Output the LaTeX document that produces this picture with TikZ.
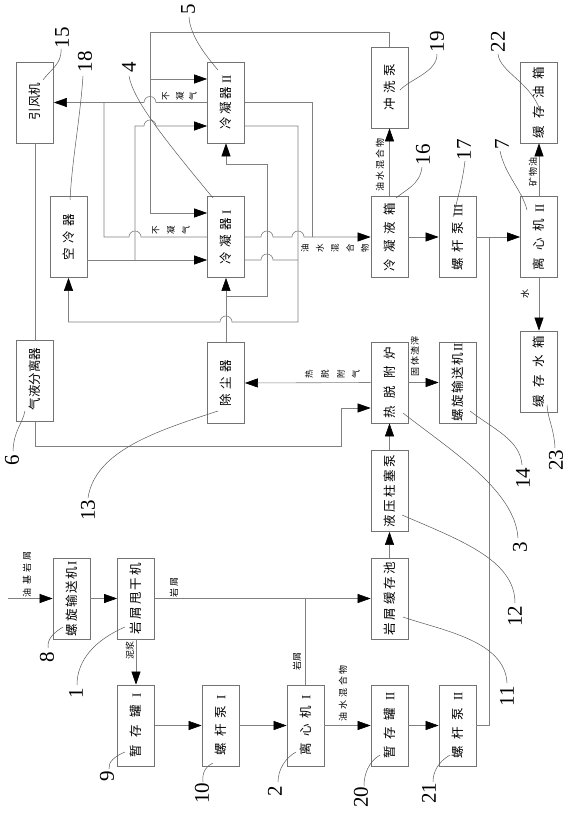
\documentclass[tikz,border=0pt]{standalone}
\usepackage{fontspec}
\setmainfont{Liberation Serif}
\newfontfamily\cjk{Noto Sans CJK SC}
\usetikzlibrary{arrows.meta,calc}
\newcommand\bt[2]{\rotatebox{90}{\makebox[#1pt][s]{#2}}}
\begin{document}
\begin{tikzpicture}[x=1pt,y=-1pt,
 ln/.style={draw=black!50, line width=0.6pt},
 arr/.style={ln, -{Triangle[length=13pt,width=9pt,color=black]}},
 box/.style={draw=black!55, line width=0.7pt, minimum width=37pt, minimum height=81pt, inner sep=0pt, font=\fontsize{12.5}{13}\selectfont},
 num/.style={rotate=90, font=\fontsize{21}{21}\selectfont, inner sep=0pt},
 lab/.style={rotate=90, font=\cjk\fontsize{9}{9}\selectfont, inner sep=0pt},
 ch/.style={rotate=90, font=\cjk\fontsize{8.5}{8.5}\selectfont, inner sep=0pt},
 lead/.style={draw=black!65, line width=0.5pt}]
\useasboundingbox (0,0) rectangle (570,813);

% boxes
\node[box] (fan) at (35,102.5) {\bt{36}{\cjk 引\hfil 风\hfil 机}};
\node[box] (aircool) at (68.5,237) {\bt{46}{\cjk 空\hfil 冷\hfil 器}};
\node[box] (condII) at (226,102.5) {\bt{54}{\cjk 冷\hfil 凝\hfil 器\hfil\rmfamily II}};
\node[box] (condI) at (226,237) {\bt{54}{\cjk 冷\hfil 凝\hfil 器\hfil\rmfamily I}};
\node[box] (gls) at (35,381) {\bt{58}{\cjk 气\hfil 液\hfil 分\hfil 离\hfil 器}};
\node[box] (dust) at (226,383) {\bt{47}{\cjk 除\hfil 尘\hfil 器}};
\node[box] (flush) at (389.5,87.5) {\bt{47}{\cjk 冲\hfil 洗\hfil 泵}};
\node[box] (oiltank) at (539,102.5) {\bt{72}{\cjk 缓\hfil 存\hfil 油\hfil 箱}};
\node[box] (cliq) at (389.5,237) {\bt{68}{\cjk 冷\hfil 凝\hfil 液\hfil 箱}};
\node[box] (pump3) at (457.5,237) {\bt{66}{\cjk 螺\hfil 杆\hfil 泵\hfil\rmfamily III}};
\node[box] (cent2) at (539,237) {\bt{66}{\cjk 离\hfil 心\hfil 机\hfil\rmfamily II}};
\node[box] (tdu) at (389.5,382.5) {\bt{72}{\cjk 热\hfil 脱\hfil 附\hfil 炉}};
\node[box] (conv2) at (457.5,382.5) {\bt{78}{\cjk 螺\hfil 旋\hfil 输\hfil 送\hfil 机\hfil\rmfamily II}};
\node[box] (watertank) at (539,371.5) {\bt{72}{\cjk 缓\hfil 存\hfil 水\hfil 箱}};
\node[box] (hpump) at (389.5,491) {\bt{73}{\cjk 液\hfil 压\hfil 柱\hfil 塞\hfil 泵}};
\node[box] (cpool) at (389.5,598.5) {\bt{74}{\cjk 岩\hfil 屑\hfil 缓\hfil 存\hfil 池}};
\node[box] (conv1) at (71.5,598.5) {\bt{75}{\cjk 螺\hfil 旋\hfil 输\hfil 送\hfil 机\hfil\rmfamily I}};
\node[box] (dryer) at (136,598.5) {\bt{71}{\cjk 岩\hfil 屑\hfil 甩\hfil 干\hfil 机}};
\node[box] (tank1) at (136,725.5) {\bt{64}{\cjk 暂\hfil 存\hfil 罐\hfil\rmfamily I}};
\node[box] (pump1) at (220.5,725.5) {\bt{60}{\cjk 螺\hfil 杆\hfil 泵\hfil\rmfamily I}};
\node[box] (cent1) at (305.5,725.5) {\bt{60}{\cjk 离\hfil 心\hfil 机\hfil\rmfamily I}};
\node[box] (tank2) at (389.5,725.5) {\bt{66}{\cjk 暂\hfil 存\hfil 罐\hfil\rmfamily II}};
\node[box] (pump2) at (457.5,725.5) {\bt{66}{\cjk 螺\hfil 杆\hfil 泵\hfil\rmfamily II}};

% bottom chain
\coordinate (feed) at (8,598.5);
\draw[arr] (feed) -- (conv1.west);
\draw[arr] (conv1.east) -- (dryer.west);
\draw[arr] (dryer.east) -- (cpool.west);
\draw[ln] (cent1.north) -- (cent1.north |- cpool.west);
\draw[arr] (dryer.south) -- (tank1.north);
\draw[arr] (tank1.east) -- (pump1.west);
\draw[arr] (pump1.east) -- (cent1.west);
\draw[arr] (cent1.east) -- (tank2.west);
\draw[arr] (tank2.east) -- (pump2.west);
\draw[ln] (pump2.east) -- (489,725.5) -- (489,237);
\draw[arr] (pump3.east) -- (cent2.west);
\draw[arr] (cpool.north) -- (hpump.south);
\draw[arr] (hpump.north) -- (tdu.south);
\draw[arr] (tdu.east) -- (conv2.west);
\draw[arr] (tdu.west) -- (dust.east);
\draw[arr] (gls.south) -- (35,446) -- (341,446) -- (341,408) -- (tdu.west |- 0,408);
\draw[ln] (fan.south) -- (gls.north);

% right column
\draw[arr] (cliq.north) -- (flush.south);
\draw[arr] (cliq.east) -- (pump3.west);
\draw[arr] (cent2.north) -- (oiltank.south);
\draw[arr] (cent2.south) -- (watertank.north);

% flushing pump to condensers
\draw[arr] (flush.north) -- (389.5,32) -- (150,32) -- (150,213) -- (condI.west |- 0,213);
\draw[arr] (150,79) -- (condII.west |- 0,79);

% non-condensable gas
\draw[arr] (condII.west) -- (156,102.5) arc[start angle=0,end angle=180,radius=6pt] -- (fan.east);
\draw[ln] (condI.west) -- (141,237) arc[start angle=0,end angle=180,radius=6pt] -- (104,237) -- (104,102.5);

% air cooler to condensers
\draw[arr] ($(aircool.east)+(0,23)$) -- (condI.west |- 0,260);
\draw[arr] (135,260) -- (135,126) -- (144,126) arc[start angle=180,end angle=0,radius=6pt] -- (condII.west |- 0,126);

% condensate to tank
\draw[ln] (condII.east) -- (312,102.5) -- (312,237);
\draw[arr] (condI.east) -- (261,237) arc[start angle=180,end angle=0,radius=6pt] -- (292,237) arc[start angle=180,end angle=0,radius=6pt] -- (cliq.west);

% cooling return to air cooler
\draw[arr] (condII.east |- 0,126) -- (298,126) -- (298,322) -- (232,322) arc[start angle=0,end angle=180,radius=6pt] -- (aircool.south |- 0,322) -- (aircool.south);
\draw[ln] (condI.east |- 0,260) -- (261,260) arc[start angle=180,end angle=0,radius=6pt] -- (298,260);

% dust remover to condensers
\draw[arr] (dust.north) -- (condI.south);
\draw[arr] (dust.north |- 0,296) -- (267,296) -- (267,164) -- (condII.south |- 0,164) -- (condII.south);

% flow labels (rotated)
\node[lab] (l1) at (27,574) {\makebox[46pt][s]{油\hfil 基\hfil 岩\hfil 屑}};
\node[lab] (l2) at (174,587) {\makebox[20pt][s]{岩\hfil 屑}};
\node[lab] (l3) at (130,650) {\makebox[18pt][s]{泥\hfil 浆}};
\node[lab] (l4) at (297,661) {\makebox[18pt][s]{岩\hfil 屑}};
\node[lab] (l5) at (343,693) {\makebox[56pt][s]{油\hfil 水\hfil 混\hfil 合\hfil 物}};
\node[lab] (l6) at (415,356) {\makebox[40pt][s]{固\hfil 体\hfil 渣\hfil 滓}};
\node[lab] (l7) at (380,165) {\makebox[53pt][s]{油\hfil 水\hfil 混\hfil 合\hfil 物}};
\node[lab] (l8) at (533,172) {\makebox[29pt][s]{矿\hfil 物\hfil 油}};
\node[lab] (l9) at (525,294) {水};

% rows of single rotated characters
\node[ch] at (166,96) {不}; \node[ch] at (180,96) {凝}; \node[ch] at (193,96) {气};
\node[ch] at (156,230) {不}; \node[ch] at (171,230) {凝}; \node[ch] at (186,230) {气};
\node[ch] at (305,248) {油}; \node[ch] at (320,248) {水}; \node[ch] at (335,248) {混}; \node[ch] at (350,248) {合}; \node[ch] at (365,248) {物};
\node[ch] at (309,374) {热}; \node[ch] at (325,374) {脱}; \node[ch] at (341,374) {附}; \node[ch] at (356,374) {气};

% reference numbers
\node[num] (n15) at (62,38) {15};
\node[num] (n18) at (85,62) {18};
\node[num] (n4) at (129,67) {4};
\node[num] (n5) at (188,9) {5};
\node[num] (n19) at (437,42) {19};
\node[num] (n22) at (498,42) {22};
\node[num] (n16) at (423,155) {16};
\node[num] (n17) at (464,150) {17};
\node[num] (n7) at (502,144) {7};
\node[num] (n6) at (12,460) {6};
\node[num] (n13) at (88,510) {13};
\node[num] (n14) at (523,478) {14};
\node[num] (n23) at (556,460) {23};
\node[num] (n3) at (520,547) {3};
\node[num] (n12) at (515,616) {12};
\node[num] (n11) at (507,696) {11};
\node[num] (n8) at (47,657) {8};
\node[num] (n1) at (76,693) {1};
\node[num] (n9) at (107,776) {9};
\node[num] (n10) at (202,793) {10};
\node[num] (n2) at (275,791) {2};
\node[num] (n20) at (361,797) {20};
\node[num] (n21) at (429,793) {21};

% leader curves
\draw[lead] (61,49) .. controls (62,64) and (50,70) .. (43,80);
\draw[lead] (83,76) .. controls (80,120) and (72,160) .. (70,200);
\draw[lead] (129,76) .. controls (133,100) and (165,140) .. (213,198);
\draw[lead] (189,17) .. controls (190,35) and (205,55) .. (218,70);
\draw[lead] (437,54) .. controls (437,72) and (412,78) .. (400,90);
\draw[lead] (498,54) .. controls (500,72) and (530,82) .. (540,110);
\draw[lead] (422,167) .. controls (420,185) and (405,190) .. (396,198);
\draw[lead] (465,161) .. controls (462,185) and (457,200) .. (453,217);
\draw[lead] (500,151) .. controls (505,175) and (522,190) .. (527,210);
\draw[lead] (13,451) .. controls (14,430) and (22,425) .. (25,411);
\draw[lead] (88,498) .. controls (95,450) and (160,430) .. (218,411);
\draw[lead] (522,465) .. controls (520,440) and (495,430) .. (470,411);
\draw[lead] (555,448) .. controls (554,428) and (548,420) .. (547,405);
\draw[lead] (403,413) .. controls (450,450) and (515,490) .. (518,538);
\draw[lead] (402,515) .. controls (460,540) and (515,560) .. (515,603);
\draw[lead] (403,617) .. controls (440,630) and (505,640) .. (507,683);
\draw[lead] (63,627) .. controls (55,632) and (47,638) .. (48,648);
\draw[lead] (125,627) .. controls (95,640) and (77,660) .. (77,685);
\draw[lead] (125,752) .. controls (115,756) and (108,762) .. (109,769);
\draw[lead] (213,763) .. controls (205,767) and (202,773) .. (203,782);
\draw[lead] (296,752) .. controls (285,758) and (278,770) .. (278,782);
\draw[lead] (380,755) .. controls (368,762) and (364,775) .. (364,786);
\draw[lead] (450,755) .. controls (438,762) and (433,772) .. (433,782);
\end{tikzpicture}
\end{document}
